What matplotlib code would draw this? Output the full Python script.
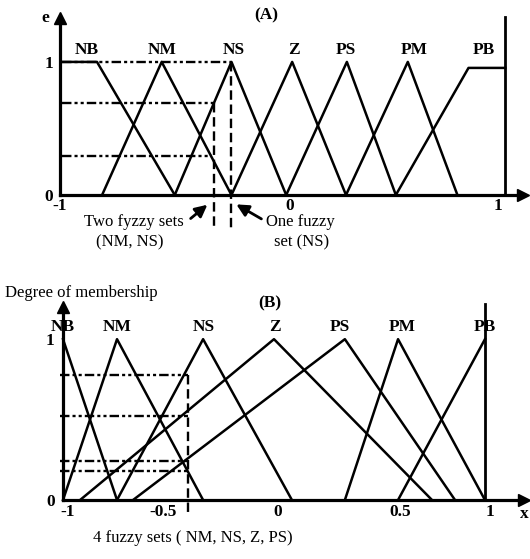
import matplotlib
matplotlib.use("Agg")
import matplotlib.pyplot as plt
import numpy as np

plt.rcParams['font.family'] = ['Liberation Serif', 'DejaVu Serif']

# ---- panel (A): e, uniform-ish sets ----
set_names = ['NB', 'NM', 'NS', 'Z', 'PS', 'PM', 'PB']
a_x = [
    [-1.0, -0.843, -0.492],
    [-0.820, -0.551, -0.236],
    [-0.492, -0.236, 0.011],
    [-0.236, 0.038, 0.281],
    [0.011, 0.285, 0.506],
    [0.281, 0.560, 0.784],
    [0.506, 0.834, 1.0],
]
a_y = [
    [1, 1, 0],
    [0, 1, 0],
    [0, 1, 0],
    [0, 1, 0],
    [0, 1, 0],
    [0, 1, 0],
    [0, 0.955, 0.955],
]
a_label_x = [-0.888, -0.551, -0.227, 0.047, 0.281, 0.587, 0.901]
a_query = [-0.317, -0.236]          # two dashed verticals
a_levels = [1.0, 0.69, 0.29]        # dashed horizontals
a_level_end = [-0.236, -0.317, -0.325]
a_xticks = [-1.01, 0.029, 0.969]
a_xticklabels = ['-1', '0', '1']

# ---- panel (B): non-uniform sets ----
b_x = [
    [-1.0, -0.744],
    [-1.0, -0.744, -0.336],
    [-0.744, -0.336, 0.085],
    [-0.919, 0.0, 0.749],
    [-0.668, 0.336, 0.858],
    [0.336, 0.588, 1.0],
    [0.588, 1.0],
]
b_y = [
    [1, 0],
    [0, 1, 0],
    [0, 1, 0],
    [0, 1, 0],
    [0, 1, 0],
    [0, 1, 0],
    [0, 1],
]
b_label_x = [-1.0, -0.744, -0.332, 0.005, 0.313, 0.607, 1.0]
b_query = -0.408
b_levels = [0.776, 0.52, 0.24, 0.18]
b_xticks = [-0.976, -0.526, 0.019, 0.597, 1.024]
b_xticklabels = ['-1', '-0.5', '0', '0.5', '1']

LW = 1.8
DASH = (0, (4, 1.3, 1.3, 1.3, 1.3, 1.3))
bold = dict(fontsize=12.5, fontweight='bold')
plain = dict(fontsize=12)


def style_axes(ax, xmax, ymax, xpad, ypad):
    ax.set_xlim(-1, xmax)
    ax.set_ylim(0, ymax)
    for s in ['top', 'right']:
        ax.spines[s].set_visible(False)
    for s in ['left', 'bottom']:
        ax.spines[s].set_linewidth(2.3)
    ax.patch.set_alpha(0)
    ax.tick_params(length=0)
    ax.tick_params(axis='x', pad=xpad)
    ax.tick_params(axis='y', pad=ypad)
    ax.set_yticks([0, 1], ['0', '1'], **bold)
    # arrow heads
    ax.plot(1, 0, '>k', ms=9, transform=ax.transAxes, clip_on=False)
    ax.plot(0, 1, '^k', ms=9, transform=ax.transAxes, clip_on=False)


fig = plt.figure(figsize=(5.3, 5.59), dpi=100)

# ---------------- (A) ----------------
ax = fig.add_axes([60 / 530, 1 - 195 / 559, 463 / 530, 177 / 559])
style_axes(ax, 1.08, 1.33, 2.5, 5)
ax.set_xticks(a_xticks, a_xticklabels, **bold)

for xs, ys, name, lx in zip(a_x, a_y, set_names, a_label_x):
    ax.plot(xs, ys, color='black', lw=LW, clip_on=False)
    ax.text(lx, 1.09, name, ha='center', va='center', **bold)

ax.plot([1, 1], [0, 1.34], color='black', lw=2, clip_on=False)

for lev, xe in zip(a_levels, a_level_end):
    ax.plot([-1, xe], [lev, lev], color='black', lw=1.7, linestyle=DASH)
ax.plot([a_query[0]] * 2, [a_levels[1], -0.26], color='black', lw=1.7,
        linestyle=(0, (4, 2)), clip_on=False)
ax.plot([a_query[1]] * 2, [1.0, -0.28], color='black', lw=1.7,
        linestyle=(0, (4, 2)), clip_on=False)

arrow = dict(arrowstyle='-|>', lw=2, color='black', mutation_scale=18)
ax.annotate('', xy=(-0.335, -0.06), xytext=(-0.43, -0.19),
            arrowprops=arrow, annotation_clip=False)
ax.annotate('', xy=(-0.225, -0.06), xytext=(-0.09, -0.19),
            arrowprops=arrow, annotation_clip=False)
ax.text(-0.45, -0.2, 'Two fyzzy sets', ha='right', va='center', **plain)
ax.text(-0.694, -0.355, '(NM, NS)', ha='center', va='center', **plain)
ax.text(-0.08, -0.205, 'One fuzzy', ha='left', va='center', **plain)
ax.text(0.079, -0.355, 'set (NS)', ha='center', va='center', **plain)
ax.text(-0.079, 1.353, '(A)', ha='center', va='center', **bold)
ax.text(-1.076, 1.33, 'e', ha='center', va='center', **bold)

# ---------------- (B) ----------------
bx = fig.add_axes([63 / 530, 1 - 500 / 559, 461 / 530, 193 / 559])
style_axes(bx, 1.185, 1.2, 3, 6)
bx.set_xticks(b_xticks, b_xticklabels, **bold)

for xs, ys, name, lx in zip(b_x, b_y, set_names, b_label_x):
    bx.plot(xs, ys, color='black', lw=LW, clip_on=False)
    bx.text(lx, 1.075, name, ha='center', va='center', **bold)

bx.plot([1, 1], [0, 1.22], color='black', lw=2, clip_on=False)

for lev in b_levels:
    bx.plot([-1.015, b_query], [lev, lev], color='black', lw=1.7,
            linestyle=DASH, clip_on=False)
bx.plot([b_query] * 2, [max(b_levels), -0.085], color='black', lw=1.7,
        linestyle=(0, (4, 2)), clip_on=False)

bx.text(-1.275, 1.286, 'Degree of membership', ha='left', va='center', **plain)
bx.text(-0.019, 1.224, '(B)', ha='center', va='center', **bold)
bx.text(-0.858, -0.236, '4 fuzzy sets ( NM, NS, Z, PS)', ha='left',
        va='center', **plain)
bx.text(1.185, -0.09, 'x', ha='center', va='center', **bold)

fig.savefig('out.png', dpi=100)
